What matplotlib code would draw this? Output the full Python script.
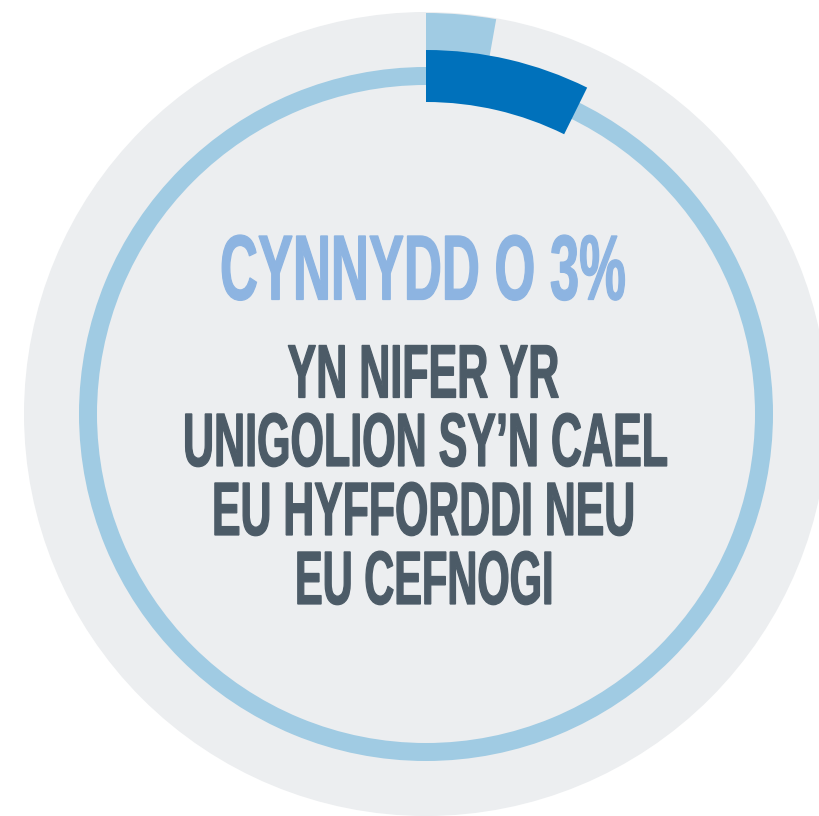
import matplotlib
matplotlib.use("Agg")
import matplotlib.pyplot as plt
import matplotlib.patheffects as pe
from matplotlib.patches import Circle, Wedge
from matplotlib.transforms import Affine2D

# ---- data ----
segment_names = ["Blaenorol", "Cyfredol"]      # previous, current
segment_shares = [0.028, 0.073]                 # share of full circle
headline = "CYNNYDD O 3%"
body_lines = ["YN NIFER YR", "UNIGOLION SY\u2019N CAEL", "EU HYFFORDDI NEU", "EU CEFNOGI"]

# ---- style ----
BG_GREY = "#eceef0"
RING = "#a0cbe3"
DARK = "#0071bb"
TITLE_C = "#8db4e1"
BODY_C = "#4c5b67"
FONT = ["Liberation Sans Narrow", "Liberation Sans", "DejaVu Sans"]

W, H = 820, 816
fig = plt.figure(figsize=(W / 100, H / 100), dpi=100)
ax = fig.add_axes([0, 0, 1, 1])
ax.set_xlim(0, W)
ax.set_ylim(H, 0)
ax.set_aspect("equal")
ax.axis("off")

cx, cy = 426, 414

ax.add_patch(Circle((cx, cy), 402, facecolor=BG_GREY, edgecolor="none", zorder=1))
ax.add_patch(Wedge((cx, cy), 347, 0, 360, width=18, facecolor=RING, edgecolor="none", zorder=2))

# segments start at top and go clockwise (y axis inverted -> increasing theta is clockwise)
seg_radii = [(401, 71), (364, 52)]
seg_colors = [RING, DARK]
for share, (r, w), col, z in zip(segment_shares, seg_radii, seg_colors, [3, 4]):
    t1 = -90
    t2 = -90 + 360 * share
    ax.add_patch(Wedge((cx, cy), r, t1, t2, width=w, facecolor=col, edgecolor="none", zorder=z))


class Squeeze(pe.AbstractPathEffect):
    """Condense glyphs horizontally (and restore height) about an anchor point."""

    def __init__(self, sx, sy, x0, y0, color, lw):
        super().__init__()
        self.sx, self.sy, self.x0, self.y0 = sx, sy, x0, y0
        self.color, self.lw = color, lw

    def draw_path(self, renderer, gc, tpath, affine, rgbFace=None):
        t = affine + Affine2D().translate(-self.x0, -self.y0).scale(self.sx, self.sy).translate(self.x0, self.y0)
        gc0 = renderer.new_gc()
        gc0.copy_properties(gc)
        gc0.set_linewidth(self.lw)
        gc0.set_foreground(self.color)
        gc0.set_joinstyle("miter")
        renderer.draw_path(gc0, tpath, t, rgbFace)
        gc0.restore()


K = 0.6  # drawn font size factor; glyphs are scaled back up vertically
texts = []
t = ax.text(423, 299.5, headline, ha="center", va="baseline", fontsize=66.5 * K,
            fontweight="bold", color=TITLE_C, family=FONT, zorder=6)
texts.append((t, 406, 423, 299.5, TITLE_C))
body_baselines = [397.5, 466, 535, 604]
body_widths = [271, 484, 422, 258]
body_centers = [423, 425, 423, 424]
for line, yb, w, xc in zip(body_lines, body_baselines, body_widths, body_centers):
    t = ax.text(xc, yb, line, ha="center", va="baseline", fontsize=54.5 * K,
                fontweight="bold", color=BODY_C, family=FONT, zorder=6)
    texts.append((t, w, xc, yb, BODY_C))

fig.canvas.draw()
renderer = fig.canvas.get_renderer()
for t, target_w, xc, yb, col in texts:
    bb = t.get_window_extent(renderer)
    sx = target_w / bb.width
    x0, y0 = ax.transData.transform((xc, yb))
    t.set_path_effects([Squeeze(sx, 1 / K, x0, y0, col, 0.9)])

fig.savefig("out.png", dpi=100, facecolor="white")
